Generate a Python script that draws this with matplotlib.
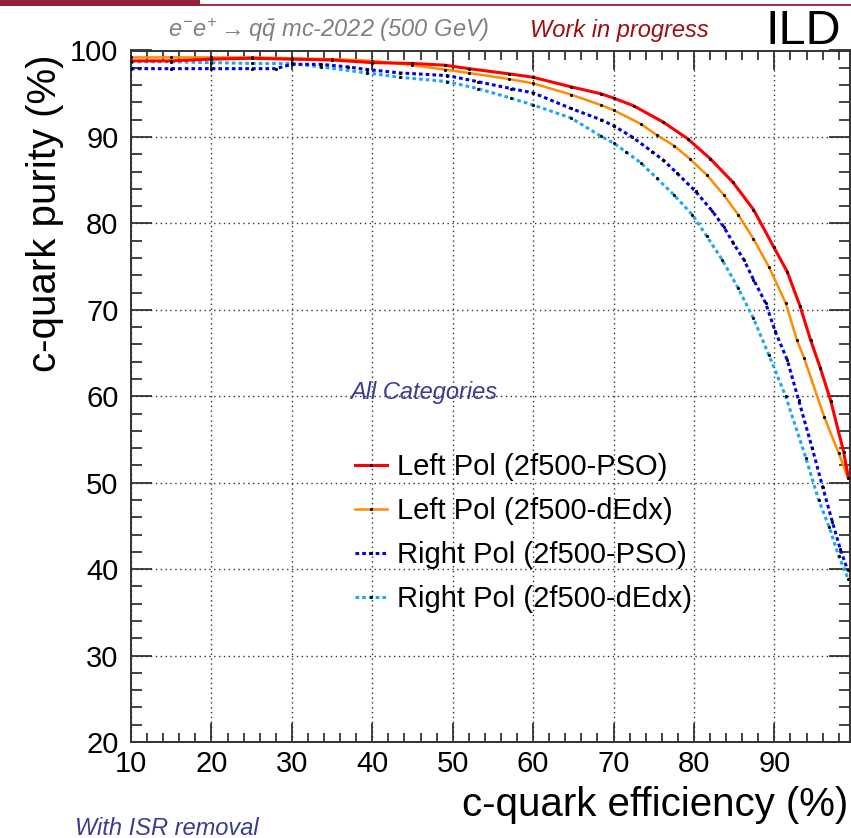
import matplotlib
matplotlib.use("Agg")
import matplotlib.pyplot as plt
from matplotlib.patches import Rectangle
from matplotlib.ticker import MultipleLocator

plt.rcParams['font.family'] = ['Liberation Sans', 'DejaVu Sans']
plt.rcParams['mathtext.fontset'] = 'custom'
plt.rcParams['mathtext.it'] = 'Liberation Sans:italic'
plt.rcParams['mathtext.rm'] = 'Liberation Sans:italic'
plt.rcParams['mathtext.sf'] = 'Liberation Sans:italic'

# c-quark efficiency (%) vs purity (%)
eff_left_pso = [10, 15, 20, 25, 30, 35, 40, 45, 49, 52, 57, 60, 64.7, 68.4, 70, 72.5,
                76.2, 79.2, 82, 84.8, 87.4, 89.9, 91.6, 93.2, 94.5, 95.7, 97, 98.6, 99.2]
pur_left_pso = [98.8, 98.8, 99.0, 99.1, 99.0, 98.9, 98.6, 98.5, 98.3, 97.9, 97.3, 96.9, 95.8,
                95.0, 94.5, 93.6, 91.7, 89.8, 87.5, 84.8, 81.6, 77.3, 74.4, 70.4, 66.5, 63.3,
                59.5, 53.6, 50.6]

eff_left_dedx = [10, 15, 20, 25, 30, 35, 40, 45, 49, 52, 57, 60, 64.7, 68.4, 70, 73.4, 75.4,
                 77.5, 79.5, 81.6, 83.7, 85.5, 87.4, 89.3, 91.4, 92.8, 93.7, 96.2, 98.0, 99.1]
pur_left_dedx = [99.2, 99.2, 99.2, 99.2, 99.1, 99.0, 98.8, 98.3, 97.8, 97.4, 96.7, 96.2, 94.9,
                 93.7, 93.1, 91.5, 90.2, 89.0, 87.45, 85.6, 83.3, 81.0, 78.2, 75.0, 70.8, 66.5,
                 64.4, 57.6, 53.4, 50.7]

eff_right_pso = [10, 15, 20, 25, 28, 30, 33.6, 37, 39.4, 43.5, 49.3, 53.1, 57.2, 60, 64.7,
                 68.4, 70, 72.3, 74.8, 76.2, 77.9, 80.2, 82.3, 83.7, 84.9, 86.2, 87.4, 88.9,
                 90.1, 91.6, 93.0, 94.7, 96.0, 97.2, 98.2, 99.1]
pur_right_pso = [97.9, 97.9, 97.9, 97.9, 97.9, 98.4, 98.4, 98.1, 97.8, 97.4, 97.1, 96.4, 95.6,
                 95.1, 93.3, 92.0, 91.3, 90.0, 88.3, 87.3, 85.8, 83.7, 81.4, 79.6, 77.7, 75.8,
                 73.5, 70.8, 67.5, 64.2, 59.6, 54.0, 49.5, 45.5, 42.3, 39.9]

eff_right_dedx = [10, 15, 20, 25, 30, 33.6, 39.4, 43.5, 49.3, 53.1, 57.2, 60, 64.7, 68.4, 70,
                  71.5, 73.4, 75.4, 77.5, 79.8, 81.6, 83.5, 85.5, 87.4, 89.3, 91.4, 93.9, 95.5,
                  96.8, 98.0, 99.2]
pur_right_dedx = [98.7, 98.7, 98.6, 98.5, 98.5, 98.1, 97.4, 96.9, 96.4, 95.6, 94.5, 93.7, 92.2,
                  90.1, 89.3, 88.3, 87.0, 85.2, 83.3, 81.0, 78.5, 75.8, 72.5, 69.0, 64.8, 60.0,
                  52.9, 48.0, 44.9, 41.5, 38.8]

labels = ['Left Pol (2f500-PSO)', 'Left Pol (2f500-dEdx)',
          'Right Pol (2f500-PSO)', 'Right Pol (2f500-dEdx)']

W, H = 851, 838
fig = plt.figure(figsize=(W / 100, H / 100), dpi=100)
ax = fig.add_axes([131 / W, 1 - 742 / H, (850 - 131) / W, (742 - 50.5) / H])

dot = (0, (1.2, 1.0))
ax.plot(eff_left_pso, pur_left_pso, color='#ff0000', lw=2.2, marker='.', ms=2.5,
        mfc='black', mec='black', label=labels[0], zorder=4)
ax.plot(eff_left_dedx, pur_left_dedx, color='#ff8c00', lw=1.8, marker='.', ms=2.5,
        mfc='black', mec='black', label=labels[1], zorder=3)
ax.plot(eff_right_pso, pur_right_pso, color='#0000ee', lw=2.2, ls=dot, marker='.', ms=2.5,
        mfc='black', mec='black', label=labels[2], zorder=3)
ax.plot(eff_right_dedx, pur_right_dedx, color='#1ea8f0', lw=2.2, ls=dot, marker='.', ms=2.5,
        mfc='black', mec='black', label=labels[3], zorder=2)

ax.set_xlim(10, 99.4)
ax.set_ylim(20, 100)
ax.xaxis.set_major_locator(MultipleLocator(10))
ax.xaxis.set_minor_locator(MultipleLocator(2))
ax.yaxis.set_major_locator(MultipleLocator(10))
ax.yaxis.set_minor_locator(MultipleLocator(2))
ax.tick_params(which='both', direction='in', top=True, right=True, width=1.2, colors='#222222',
               labelcolor='black', labelsize=21)
ax.tick_params(axis='x', which='major', length=14, pad=6)
ax.tick_params(axis='x', which='minor', length=6.5)
ax.tick_params(axis='y', which='major', length=15, pad=9)
ax.tick_params(axis='y', which='minor', length=8)
for s in ax.spines.values():
    s.set_linewidth(1.4)
    s.set_color('#333333')
ax.grid(True, which='major', ls=(0, (1, 2.5)), color='#333333', lw=1.0)

leg = ax.legend(loc='upper left', bbox_to_anchor=(355 / W, 1 - 453 / H),
                bbox_transform=fig.transFigure, frameon=False, fontsize=21,
                handlelength=1.1, handletextpad=0.35, labelspacing=0.55,
                borderpad=0, borderaxespad=0, numpoints=1)

fig.text(45 / W, 1 - 55 / H, 'c-quark purity (%)', rotation=90, ha='center', va='top',
         fontsize=29)
fig.text(848 / W, 1 - 805 / H, 'c-quark efficiency (%)', ha='right', va='center',
         fontsize=29)

fig.text(168 / W, 1 - 30 / H, r'$e^{-}e^{+}\rightarrow q\bar{q}$ mc-2022 (500 GeV)',
         color='#808080', style='italic', fontsize=17, va='center')
fig.text(530 / W, 1 - 30 / H, 'Work in progress', color='#9b1010', style='italic',
         fontsize=17, va='center')
fig.text(766 / W, 1 - 32 / H, 'ILD', color='black', fontsize=35, va='center')
fig.text(350 / W, 1 - 392 / H, 'All Categories', color='#3b3b96', style='italic',
         fontsize=17, va='center')
fig.text(75 / W, 1 - 828 / H, 'With ISR removal', color='#3b3b96', style='italic',
         fontsize=17, va='center')

# slide header bar
fig.add_artist(Rectangle((0, 1 - 6 / H), 200 / W, 6 / H, transform=fig.transFigure,
                         color='#931f3d', lw=0))
fig.add_artist(Rectangle((200 / W, 1 - 6.5 / H), 1, 2.5 / H, transform=fig.transFigure,
                         color='#a03050', lw=0))

fig.savefig('out.png', dpi=100)
